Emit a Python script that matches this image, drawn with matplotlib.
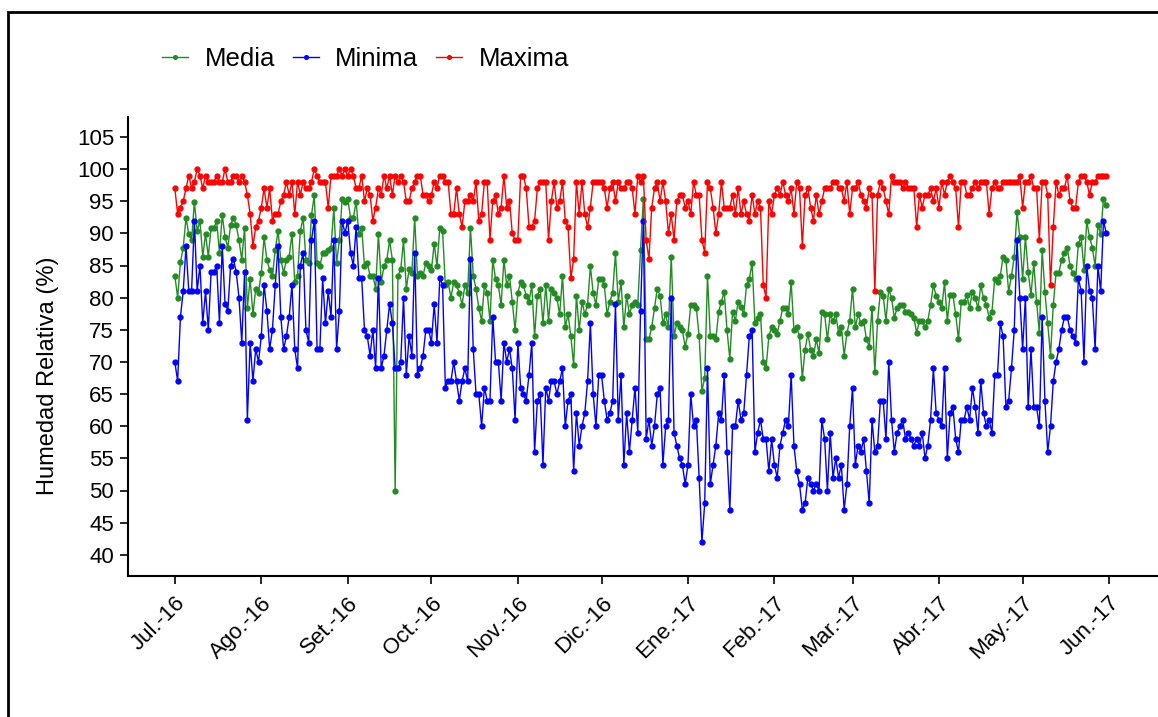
import matplotlib
matplotlib.use("Agg")
import matplotlib.pyplot as plt
from matplotlib.patches import Rectangle
import pandas as pd

plt.rcParams['font.family'] = ['Liberation Sans', 'DejaVu Sans']

# daily relative humidity, 2016-07-01 .. 2017-05-31
maxima = [
    97, 93, 94, 95, 97, 99, 97, 98, 100, 99, 97, 99, 98, 98, 98, 99, 98, 98, 100, 98, 98, 99, 99, 98, 99, 98, 96, 93, 88, 91, 92,
    94, 97, 94, 97, 92, 93, 93, 95, 96, 98, 96, 98, 93, 98, 96, 98, 97, 97, 98, 100, 99, 98, 98, 98, 94, 99, 99, 99, 100, 99, 100, 99, 100, 99, 97,
    97, 99, 95, 97, 96, 92, 94, 97, 96, 99, 97, 99, 96, 99, 98, 99, 98, 95, 95, 97, 98, 99, 99, 96, 96, 95, 96, 98, 97, 99, 99, 98, 98, 93,
    93, 97, 93, 91, 95, 95, 96, 95, 98, 92, 93, 98, 98, 89, 95, 96, 93, 94, 99, 94, 95, 90, 89, 89, 99, 99, 97, 91, 91, 92, 97, 98, 98, 98,
    89, 95, 98, 94, 95, 98, 92, 91, 83, 86, 98, 93, 98, 93, 91, 94, 98, 98, 98, 98, 97, 94, 97, 98, 95, 98, 97, 97, 98, 98, 97, 93, 99, 98, 99,
    89, 86, 94, 97, 98, 95, 98, 95, 90, 93, 89, 95, 96, 96, 94, 95, 93, 98, 96, 96, 89, 87, 98, 97, 94, 90, 93, 98, 94, 94, 94, 96, 93, 97,
    93, 95, 93, 92, 96, 93, 95, 94, 82, 80, 95, 93, 96, 97, 96, 98, 96, 95, 97, 93, 98, 97, 88, 96, 97, 94, 92, 96, 93, 95, 97, 97, 97, 98, 98,
    97, 97, 95, 98, 93, 97, 97, 98, 96, 95, 94, 97, 96, 81, 96, 98, 97, 95, 93, 99, 98, 98, 98, 97, 98, 97, 97, 97, 91, 96, 94, 96, 96, 97,
    95, 97, 94, 98, 96, 98, 99, 98, 97, 91, 98, 98, 96, 96, 97, 98, 97, 98, 98, 98, 93, 97, 98, 97, 97, 98, 98, 98, 98, 98, 98, 99, 94, 98, 98,
    99, 97, 97, 89, 98, 98, 96, 82, 91, 98, 96, 97, 97, 99, 95, 94, 94, 98, 99, 99, 98, 96, 98, 98, 99, 99, 99, 99,
]

media = [
    83.4, 80, 85.5, 87.8, 92.4, 89.9, 88.9, 94.9, 90.4, 91.9, 86.4, 89.9, 86.4, 90.9, 90.9, 91.9, 86.9, 92.9, 89.4, 87.8, 91.3, 92.4, 91.3, 88.9, 85.9, 90.9, 78.4, 82.9, 77.4, 81.4, 80.8,
    83.9, 89.4, 85.9, 84.3, 83.4, 87.4, 90.4, 85.9, 83.9, 85.9, 86.4, 89.9, 82.4, 83.4, 90.4, 92.4, 85.9, 85.4, 92.9, 95.9, 85.4, 84.9, 86.9, 86.9, 87.4, 87.8, 93.9, 85.4, 88.9, 95.4, 94.9, 95.4, 92.4, 92.4, 94.9,
    89.9, 90.9, 84.9, 85.4, 83.4, 83.4, 81.4, 89.9, 82.4, 84.9, 85.9, 88.9, 85.9, 50, 83.4, 84.4, 88.9, 81.4, 84.4, 83.9, 92.4, 83.4, 83.9, 83.4, 85.4, 84.9, 84.3, 88.4, 84.9, 90.9, 90.4, 81.9, 82.4, 80,
    82.4, 81.9, 80.8, 78.9, 81.9, 80.8, 90.9, 83.4, 81.4, 78.4, 76.4, 81.9, 80.8, 76.4, 85.9, 82.9, 81.9, 78.9, 85.9, 81.9, 83.4, 79.4, 74.9, 80.8, 82.4, 81.9, 80.3, 79.4, 81.9, 74, 80.3, 81.4, 76, 81.9,
    76.4, 81.4, 80.8, 79.9, 77.4, 83.4, 75.4, 77.4, 74, 69.5, 80.3, 74.9, 79.4, 77.4, 78.9, 84.9, 80.8, 78.9, 82.9, 82.9, 81.9, 77.4, 79.4, 80.8, 86.9, 79.4, 82.4, 75.4, 80.3, 77.4, 78.9, 79.4, 78.9, 87.4, 95.4,
    73.5, 73.5, 75.4, 78.4, 81.4, 80.3, 76, 77.4, 75.4, 86.4, 74, 76, 75.4, 74.9, 72.4, 74.4, 78.9, 78.9, 78.4, 74, 65.5, 67.5, 83.4, 74, 74, 73.5, 77.8, 79.4, 80.9, 74.9, 70.5, 77.8, 76.4, 79.4,
    78.6, 77.4, 81.9, 82.9, 85.4, 76, 76.9, 77.4, 70, 69, 74, 75.4, 74.9, 74.4, 76.4, 78.4, 78.4, 77.4, 82.4, 74.9, 75.4, 74, 67.5, 71.9, 74.4, 71.9, 70.9, 73.5, 71.4, 77.8, 77.4, 73.5, 77.4, 76.4, 77.4,
    74.5, 75.4, 71, 74.5, 76.4, 81.4, 75.4, 77.4, 76, 76.4, 73.5, 72.4, 78.4, 68.4, 76.4, 80.9, 80.3, 76.4, 81.4, 79.9, 76.9, 78.4, 78.9, 78.9, 77.8, 77.8, 77.4, 76.9, 74.5, 76.4, 76.4, 75.4, 76.4, 78.9,
    81.9, 80.3, 79.4, 78.4, 82.4, 76.4, 80.4, 80.4, 77.4, 73.5, 79.4, 79.4, 80.4, 78.4, 80.9, 79.9, 78.4, 81.9, 79.9, 78.9, 76.9, 77.8, 82.9, 82.4, 83.4, 86.4, 85.9, 80.9, 83.4, 86.4, 93.4, 89.4, 82.9, 89.4, 84.0,
    80.4, 85.4, 79.4, 74.5, 87.4, 80.9, 76, 71, 78.9, 83.9, 83.9, 85.9, 86.9, 87.8, 84.9, 83.9, 82.9, 88.4, 89.4, 84.3, 91.9, 89.4, 87.8, 84.9, 91.3, 89.9, 95.4, 94.4,
]

minima = [
    70, 67, 77, 81, 88, 81, 81, 92, 81, 85, 76, 81, 75, 84, 84, 85, 76, 88, 79, 78, 85, 86, 84, 80, 73, 84, 61, 73, 67, 72, 70,
    74, 82, 78, 72, 75, 82, 88, 77, 72, 74, 77, 82, 72, 69, 85, 87, 75, 73, 89, 92, 72, 72, 83, 76, 81, 77, 89, 72, 78, 92, 90, 92, 87, 85, 91,
    83, 83, 75, 74, 71, 75, 69, 83, 69, 71, 75, 79, 76, 69, 69, 70, 80, 68, 74, 71, 87, 68, 69, 71, 75, 75, 73, 79, 73, 83, 82, 66, 67, 67,
    70, 67, 64, 67, 69, 67, 86, 72, 65, 65, 60, 66, 64, 64, 77, 70, 70, 64, 73, 70, 72, 69, 61, 73, 66, 65, 64, 68, 73, 56, 64, 65, 54, 66,
    64, 67, 67, 65, 67, 69, 60, 64, 65, 53, 62, 57, 60, 62, 67, 76, 65, 60, 68, 68, 64, 61, 62, 64, 79, 61, 68, 54, 62, 56, 61, 66, 59, 78, 92,
    58, 61, 57, 60, 65, 66, 54, 60, 61, 80, 59, 57, 55, 54, 51, 54, 65, 60, 61, 52, 42, 48, 69, 51, 54, 57, 62, 61, 68, 56, 47, 60, 60, 64,
    61, 62, 68, 74, 75, 56, 59, 61, 58, 58, 53, 58, 54, 52, 57, 59, 61, 60, 68, 57, 53, 51, 47, 48, 52, 51, 50, 51, 50, 61, 58, 50, 59, 52, 55,
    52, 54, 47, 51, 60, 66, 54, 57, 56, 58, 53, 48, 61, 56, 57, 64, 64, 58, 70, 61, 56, 59, 60, 61, 58, 59, 58, 57, 58, 57, 59, 55, 57, 61,
    69, 62, 61, 60, 69, 55, 62, 63, 58, 56, 61, 61, 63, 61, 66, 63, 59, 67, 62, 60, 61, 59, 68, 68, 76, 74, 63, 64, 69, 75, 89, 80, 72, 80, 63,
    72, 63, 63, 60, 77, 64, 56, 60, 67, 70, 72, 75, 77, 77, 75, 74, 73, 83, 81, 70, 85, 81, 80, 72, 85, 81, 92, 90,
]

month_labels = ["Jul.-16", "Ago.-16", "Set.-16", "Oct.-16", "Nov.-16", "Dic.-16",
                "Ene.-17", "Feb.-17", "Mar.-17", "Abr.-17", "May.-17", "Jun.-17"]
y_ticks = list(range(40, 106, 5))

start = pd.Timestamp("2016-07-01")
month_ticks = pd.date_range(start, periods=len(month_labels), freq="MS")

fig = plt.figure(figsize=(11.58, 7.17), dpi=100)
ax = fig.add_axes([128 / 1158, 1 - 576 / 717, 1.0 - 128 / 1158 + 0.01, (576 - 117) / 717])

series = [("Media", media, "#228B22"), ("Minima", minima, "#0000FF"), ("Maxima", maxima, "#FF0000")]
for name, vals, col in series:
    dates = pd.date_range(start, periods=len(vals), freq="D")
    ax.plot(dates, vals, color=col, lw=1.0, marker="o", ms=3.5, label=name)

ax.set_ylim(36.7, 108.1)
ax.set_yticks(y_ticks)
ax.set_xlim(start - pd.Timedelta(days=16.8), start + pd.Timedelta(days=356.7))
ax.set_xticks(month_ticks)
ax.set_xticklabels(month_labels, rotation=45, ha="right", rotation_mode="anchor")

ax.tick_params(axis="both", labelsize=16, length=6, width=1.2, direction="out", colors="black")
ax.tick_params(axis="x", pad=6)
ax.tick_params(axis="y", pad=4)
for s in ["top", "right"]:
    ax.spines[s].set_visible(False)
for s in ["left", "bottom"]:
    ax.spines[s].set_linewidth(1.5)

ax.set_ylabel("Humedad Relativa (%)", fontsize=17)
ax.yaxis.set_label_coords(-0.066, 0.436)

fig.legend(loc="center left", bbox_to_anchor=(139 / 1158, 1 - 59 / 717), ncol=3, frameon=False,
           fontsize=18.5, handlelength=1.0, handletextpad=0.65, columnspacing=0.7, numpoints=1,
           markerscale=0.75)

# border round the whole picture
fig.add_artist(Rectangle((8 / 1158, -0.1), 1.5, (717 - 12) / 717 + 0.1, transform=fig.transFigure,
                         fill=False, lw=2, ec="black"))

fig.savefig("out.png", dpi=100)
